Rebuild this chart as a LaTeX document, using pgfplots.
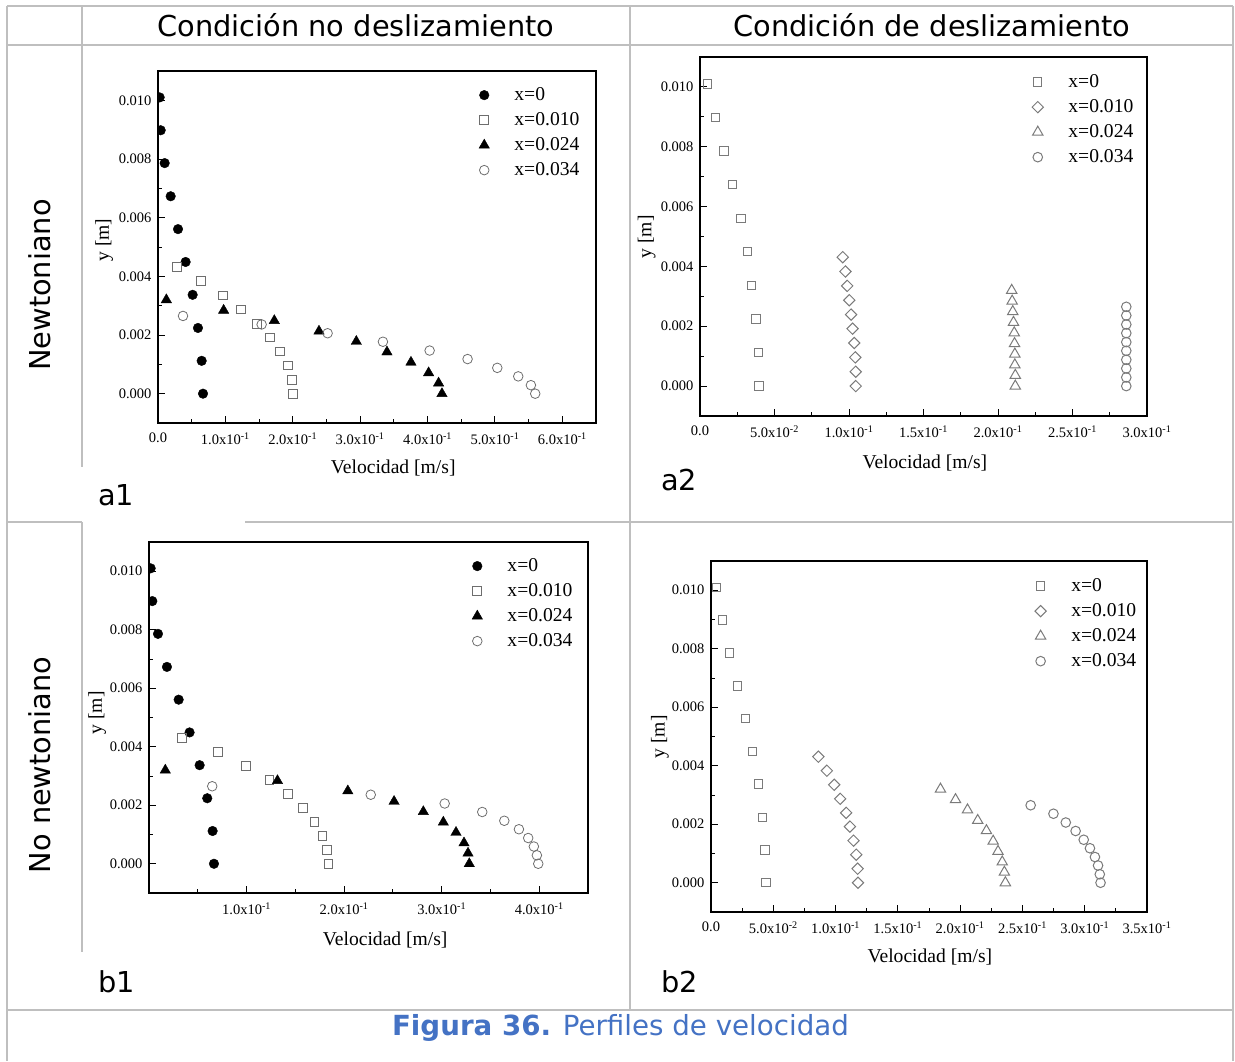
\documentclass[border=0pt]{standalone}
\usepackage{pgfplots}
\pgfplotsset{compat=1.18}
\usepackage{fontspec}
\setmainfont{Liberation Serif}
\newfontfamily\verd{DejaVu Sans}
\definecolor{gridc}{HTML}{BFBFBF}
\definecolor{capblue}{HTML}{4472C4}
\definecolor{mk}{HTML}{6E6E6E}
\definecolor{mk2}{HTML}{7A7A7A}

\newcommand{\sx}[2]{#1x10\textsuperscript{-#2}}

\pgfplotsset{
 prof/.style={
  scale only axis, anchor=south west,
  ymin=-0.001, ymax=0.011,
  ytick={0,0.002,0.004,0.006,0.008,0.010},
  yticklabels={0.000,0.002,0.004,0.006,0.008,0.010},
  minor ytick={0.001,0.003,0.005,0.007,0.009},
  scaled y ticks=false, scaled x ticks=false,
  tick align=inside, tick pos=left,
  major tick length=7pt, minor tick length=4pt,
  tick style={black, line width=0.9pt},
  axis line style={black, line width=1.1pt},
  tick label style={font=\fontsize{14.5}{16}\selectfont},
  xticklabel style={yshift=-6pt},
  yticklabel style={xshift=-3pt},
  label style={font=\fontsize{19.6}{22}\selectfont},
  xlabel={Velocidad [m/s]}, ylabel={y [m]},
  only marks, clip marker paths=true,
  legend image code/.code={\draw[##1] plot coordinates {(0pt,0pt)};},
  legend cell align=left,
  legend style={draw=none, fill=none, inner sep=0pt, outer sep=0pt,
    row sep=7pt, column sep=25pt,
    font=\fontsize{19.6}{22}\selectfont,
    nodes={inner sep=0pt, text height=14pt, text depth=4pt}},
 },
 fc/.style={mark=*, mark size=4.8pt, black},
 sq/.style={mark=square, mark size=4.4pt, mk, mark options={line width=0.9pt}},
 tr/.style={mark=triangle*, mark size=6pt, black},
 oc/.style={mark=o, mark size=4.8pt, mk, mark options={line width=0.8pt}},
 gsq/.style={mark=square, mark size=4.2pt, mk2, mark options={line width=1pt}},
 gdi/.style={mark=square, mark size=4pt, mk2, mark options={line width=1pt, rotate=45}},
 gtr/.style={mark=triangle, mark size=6pt, mk2, mark options={line width=1pt}},
 goc/.style={mark=o, mark size=4.8pt, mk2, mark options={line width=1pt}},
}

\begin{document}
\begin{tikzpicture}
\path[use as bounding box] (0pt,0pt) rectangle (1235pt,-1061pt);

% table lines
\begin{scope}[gridc, line width=2pt]
\draw (7pt,-6pt) -- (1233pt,-6pt);
\draw (7pt,-45pt) -- (1233pt,-45pt);
\draw (7pt,-6pt) -- (7pt,-1061pt);
\draw (1233pt,-6pt) -- (1233pt,-1061pt);
\draw (82pt,-6pt) -- (82pt,-467pt);
\draw (82pt,-522pt) -- (82pt,-952pt);
\draw (630pt,-6pt) -- (630pt,-1010pt);
\draw (7pt,-522pt) -- (82pt,-522pt);
\draw (245pt,-522pt) -- (1233pt,-522pt);
\draw (7pt,-1010pt) -- (1233pt,-1010pt);
\end{scope}

% headers and labels
\begin{scope}[font=\verd\fontsize{28.8}{30}\selectfont]
\node at (356pt,-25pt) {Condición no deslizamiento};
\node at (932pt,-25pt) {Condición de deslizamiento};
\node[rotate=90] at (40pt,-285pt) {Newtoniano};
\node[rotate=90] at (40pt,-765pt) {No newtoniano};
\node at (116pt,-495pt) {a1};
\node at (679pt,-480pt) {a2};
\node at (117pt,-982pt) {b1};
\node at (680pt,-982pt) {b2};
\end{scope}
\node[font=\verd\fontsize{27.7}{30}\selectfont, text=capblue] at (620.5pt,-1028pt) {{\bfseries Figura 36.} Perfiles de velocidad};

% ---------- a1 ----------
\begin{axis}[prof, at={(158pt,-423pt)}, width=438pt, height=352pt,
  xmin=0, xmax=0.65,
  xtick={0,0.1,0.2,0.3,0.4,0.5,0.6},
  xticklabels={0.0,\sx{1.0}{1},\sx{2.0}{1},\sx{3.0}{1},\sx{4.0}{1},\sx{5.0}{1},\sx{6.0}{1}},
  minor xtick={0.05,0.15,0.25,0.35,0.45,0.55},
  xlabel style={at={(axis description cs:0.537,-0.128)}, anchor=center},
  ylabel style={at={(axis description cs:-0.123,0.52)}, anchor=center},
  legend style={at={(axis description cs:0.733,0.957)}, anchor=north west}]
\addplot[fc] coordinates {(0.0025,0.0101)(0.004,0.00898)(0.0099,0.00786)(0.0188,0.00673)(0.0297,0.00561)(0.041,0.00449)(0.0514,0.00337)(0.0593,0.00224)(0.0648,0.00112)(0.0668,0)};
\addplot[sq] coordinates {(0.0287,0.00431)(0.0638,0.00383)(0.0959,0.00335)(0.1236,0.00287)(0.1464,0.00239)(0.1662,0.00192)(0.1815,0.00144)(0.1924,0.00096)(0.1988,0.00048)(0.2008,0)};
\addplot[tr] coordinates {(0.0124,0.0032)(0.0974,0.00284)(0.1726,0.00249)(0.2389,0.00213)(0.2943,0.00178)(0.3398,0.00142)(0.3754,0.00107)(0.4016,0.00071)(0.4164,0.00036)(0.4214,0)};
\addplot[oc] coordinates {(0.0371,0.00265)(0.1538,0.00236)(0.2517,0.00206)(0.3338,0.00177)(0.4031,0.00147)(0.4594,0.00118)(0.5035,0.00088)(0.5346,0.00059)(0.5534,0.00029)(0.5598,0)};
\legend{x=0,x=0.010,x=0.024,x=0.034}
\end{axis}

% ---------- a2 ----------
\begin{axis}[prof, at={(700pt,-416pt)}, width=447pt, height=359pt,
  xmin=0, xmax=0.3,
  xtick={0,0.05,0.1,0.15,0.2,0.25,0.3},
  xticklabels={0.0,\sx{5.0}{2},\sx{1.0}{1},\sx{1.5}{1},\sx{2.0}{1},\sx{2.5}{1},\sx{3.0}{1}},
  minor xtick={0.025,0.075,0.125,0.175,0.225,0.275},
  xlabel style={at={(axis description cs:0.503,-0.131)}, anchor=center},
  ylabel style={at={(axis description cs:-0.119,0.499)}, anchor=center},
  legend style={at={(axis description cs:0.743,0.955)}, anchor=north west}]
\addplot[gsq] coordinates {(0.0052,0.0101)(0.0104,0.00898)(0.016,0.00786)(0.0219,0.00673)(0.0274,0.00561)(0.0318,0.00449)(0.0347,0.00337)(0.0377,0.00224)(0.0392,0.00112)(0.0396,0)};
\addplot[gdi] coordinates {(0.0958,0.00431)(0.0976,0.00383)(0.0988,0.00335)(0.1002,0.00287)(0.1014,0.00239)(0.1024,0.00192)(0.1035,0.00144)(0.1042,0.00096)(0.1045,0.00048)(0.1045,0)};
\addplot[gtr] coordinates {(0.2092,0.0032)(0.2095,0.00284)(0.2099,0.00249)(0.2104,0.00213)(0.2109,0.00178)(0.2111,0.00142)(0.2113,0.00107)(0.2113,0.00071)(0.2116,0.00036)(0.2116,0)};
\addplot[goc] coordinates {(0.2861,0.00265)(0.2861,0.00236)(0.2861,0.00206)(0.2861,0.00177)(0.2861,0.00147)(0.2861,0.00118)(0.2861,0.00088)(0.2861,0.00059)(0.2861,0.00029)(0.2861,0)};
\legend{x=0,x=0.010,x=0.024,x=0.034}
\end{axis}

% ---------- b1 ----------
\begin{axis}[prof, at={(149pt,-893pt)}, width=439pt, height=351pt,
  xmin=0, xmax=0.45,
  xtick={0.1,0.2,0.3,0.4},
  xticklabels={\sx{1.0}{1},\sx{2.0}{1},\sx{3.0}{1},\sx{4.0}{1}},
  minor xtick={0.05,0.15,0.25,0.35},
  xlabel style={at={(axis description cs:0.538,-0.134)}, anchor=center},
  ylabel style={at={(axis description cs:-0.118,0.513)}, anchor=center},
  legend style={at={(axis description cs:0.736,0.957)}, anchor=north west}]
\addplot[fc] coordinates {(0.0017,0.0101)(0.0034,0.00898)(0.0092,0.00786)(0.0184,0.00673)(0.0304,0.00561)(0.0416,0.00449)(0.0519,0.00337)(0.0597,0.00224)(0.0652,0.00112)(0.0666,0)};
\addplot[sq] coordinates {(0.0341,0.00431)(0.0703,0.00383)(0.0997,0.00335)(0.1235,0.00287)(0.1427,0.00239)(0.1577,0.00192)(0.1696,0.00144)(0.1778,0.00096)(0.1823,0.00048)(0.184,0)};
\addplot[tr] coordinates {(0.0167,0.0032)(0.1317,0.00284)(0.2038,0.00249)(0.2512,0.00213)(0.2812,0.00178)(0.3017,0.00142)(0.3147,0.00107)(0.3229,0.00071)(0.327,0.00036)(0.3283,0)};
\addplot[oc] coordinates {(0.0648,0.00265)(0.2273,0.00236)(0.3031,0.00206)(0.3416,0.00177)(0.3642,0.00147)(0.3792,0.00118)(0.3887,0.00088)(0.3945,0.00059)(0.3976,0.00029)(0.399,0)};
\legend{x=0,x=0.010,x=0.024,x=0.034}
\end{axis}

% ---------- b2 ----------
\begin{axis}[prof, at={(711pt,-912pt)}, width=436pt, height=351pt,
  xmin=0, xmax=0.35,
  xtick={0,0.05,0.1,0.15,0.2,0.25,0.3,0.35},
  xticklabels={0.0,\sx{5.0}{2},\sx{1.0}{1},\sx{1.5}{1},\sx{2.0}{1},\sx{2.5}{1},\sx{3.0}{1},\sx{3.5}{1}},
  minor xtick={0.025,0.075,0.125,0.175,0.225,0.275,0.325},
  xlabel style={at={(axis description cs:0.502,-0.128)}, anchor=center},
  ylabel style={at={(axis description cs:-0.117,0.499)}, anchor=center},
  legend style={at={(axis description cs:0.743,0.954)}, anchor=north west}]
\addplot[gsq] coordinates {(0.0045,0.0101)(0.009,0.00898)(0.0149,0.00786)(0.0214,0.00673)(0.0279,0.00561)(0.0332,0.00449)(0.038,0.00337)(0.0414,0.00224)(0.0434,0.00112)(0.0442,0)};
\addplot[gdi] coordinates {(0.0862,0.00431)(0.093,0.00383)(0.0989,0.00335)(0.1037,0.00287)(0.1085,0.00239)(0.1115,0.00192)(0.1144,0.00144)(0.1166,0.00096)(0.1177,0.00048)(0.118,0)};
\addplot[gtr] coordinates {(0.1842,0.0032)(0.1963,0.00284)(0.2059,0.00249)(0.2141,0.00213)(0.2211,0.00178)(0.2265,0.00142)(0.2304,0.00107)(0.2338,0.00071)(0.2355,0.00036)(0.2363,0)};
\addplot[goc] coordinates {(0.2566,0.00265)(0.2749,0.00236)(0.2848,0.00206)(0.2927,0.00177)(0.2992,0.00147)(0.3042,0.00118)(0.3082,0.00088)(0.3107,0.00059)(0.3121,0.00029)(0.3127,0)};
\legend{x=0,x=0.010,x=0.024,x=0.034}
\end{axis}
\end{tikzpicture}
\end{document}
